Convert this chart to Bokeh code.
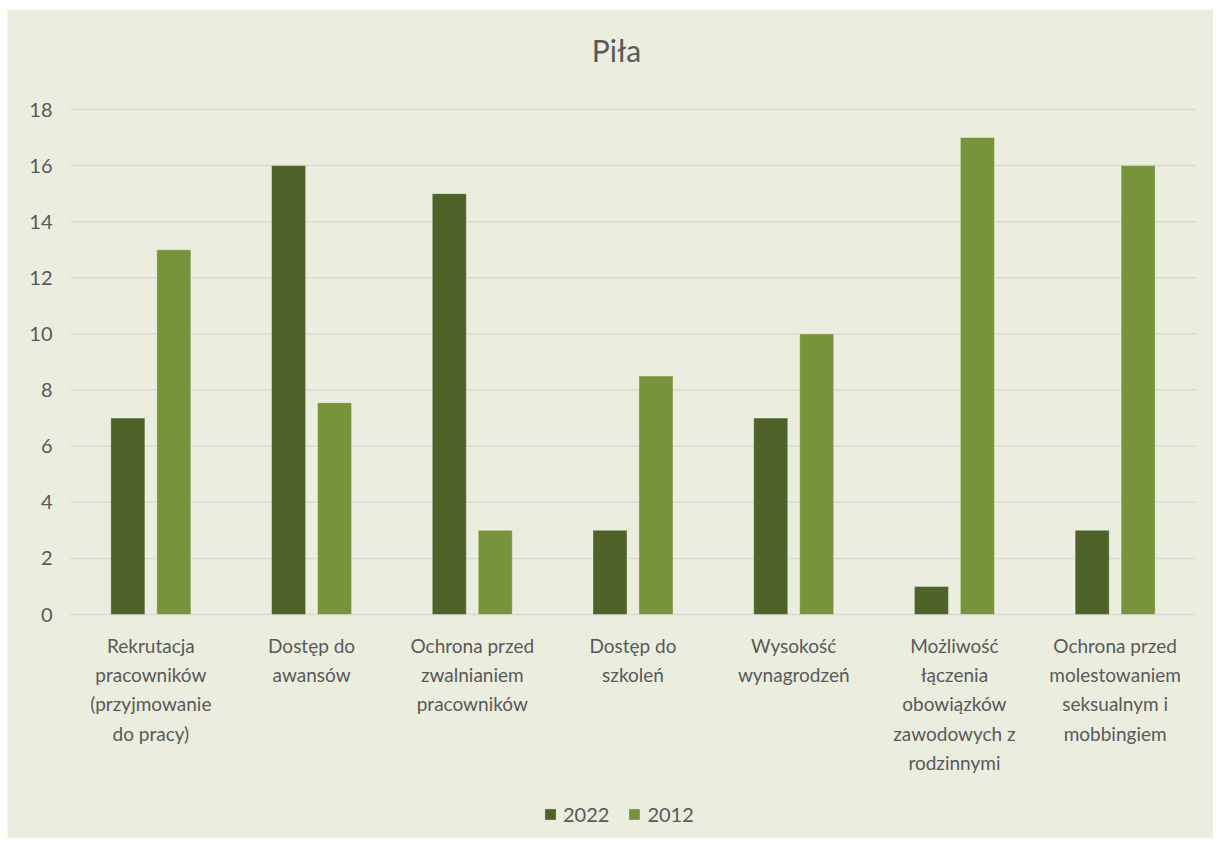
from bokeh.plotting import figure
from bokeh.models import ColumnDataSource, Range1d, Legend, LegendItem
from bokeh.transform import dodge
from bokeh.core.properties import value
from bokeh.embed import file_html
from bokeh.resources import INLINE

title_text = "Piła"
categories = [
    "Rekrutacja\npracowników\n(przyjmowanie\ndo pracy)",
    "Dostęp do\nawansów",
    "Ochrona przed\nzwalnianiem\npracowników",
    "Dostęp do\nszkoleń",
    "Wysokość\nwynagrodzeń",
    "Możliwość\nłączenia\nobowiązków\nzawodowych z\nrodzinnymi",
    "Ochrona przed\nmolestowaniem\nseksualnym i\nmobbingiem",
]
series_names = ["2022", "2012"]
values_2022 = [7, 16, 15, 3, 7, 1, 3]
values_2012 = [13, 7.55, 3, 8.5, 10, 17, 16]
y_ticks = [0, 2, 4, 6, 8, 10, 12, 14, 16, 18]
y_tick_labels = [str(t) for t in y_ticks]

BG = "#EBEEDF"
C2022 = "#4F6228"
C2012 = "#77933C"
TXT = "#595959"
FONT = "Lato"

W, H = 1206, 829
n = len(categories)
# plot area (in figure pixels): left 63, right 1188, top 100, bottom 605
px_x = (1188 - 63) / n
px_y = (605 - 100) / 18.0
x_start = -63 / px_x
x_end = n + (W - 1188) / px_x
y_start = -(H - 605) / px_y
y_end = 18 + 100 / px_y

pos = [i + 0.5 for i in range(n)]
src = ColumnDataSource(dict(x=pos, v2022=values_2022, v2012=values_2012, lab=categories))

p = figure(width=W, height=H, output_backend="svg", toolbar_location=None,
           x_range=Range1d(x_start, x_end), y_range=Range1d(y_start, y_end),
           x_axis_type=None, y_axis_type=None,
           min_border=0, min_border_left=0, min_border_right=0,
           min_border_top=0, min_border_bottom=0,
           background_fill_color=BG, border_fill_color=BG, outline_line_color=None)
p.margin = (9, 0, 0, 7)
p.grid.visible = False

# gridlines
gsrc = ColumnDataSource(dict(y=y_ticks, lab=y_tick_labels,
                             x0=[0] * len(y_ticks), x1=[n] * len(y_ticks)))
p.segment(x0="x0", y0="y", x1="x1", y1="y", source=gsrc,
          line_color="#D9D9D9", line_width=1.5)
p.text(x=-18 / px_x, y="y", text="lab", source=gsrc, text_align="right",
       text_baseline="middle", text_font=value(FONT), text_font_size="20px",
       text_color=TXT)

r1 = p.vbar(x=dodge("x", -0.143, range=p.x_range), top="v2022", width=0.212, source=src,
            fill_color=C2022, line_color="#ffffff", line_alpha=0.35, line_width=1)
r2 = p.vbar(x=dodge("x", 0.143, range=p.x_range), top="v2012", width=0.212, source=src,
            fill_color=C2012, line_color="#ffffff", line_alpha=0.35, line_width=1)

# category labels
p.text(x="x", y=-19 / px_y, text="lab", source=src, text_align="center",
       text_baseline="top", text_font=value(FONT), text_font_size="19px",
       text_color=TXT, text_line_height=1.28)

# title (centred on the whole chart)
p.text(x=[(W / 2 + 6 - 63) / px_x], y=[18 + 60 / px_y], text=[title_text], text_align="center",
       text_baseline="middle", text_font=value(FONT), text_font_size="30px",
       text_color=TXT)

legend = Legend(items=[LegendItem(label=series_names[0], renderers=[r1]),
                       LegendItem(label=series_names[1], renderers=[r2])],
                orientation="horizontal", location=(536, 12),
                background_fill_alpha=0, border_line_color=None,
                glyph_width=14, glyph_height=14, label_standoff=6, spacing=18,
                padding=0, margin=0,
                label_text_font=FONT, label_text_font_size="20px", label_text_color=TXT)
p.add_layout(legend, "center")

open("out.html", "w").write(file_html(p, INLINE))
